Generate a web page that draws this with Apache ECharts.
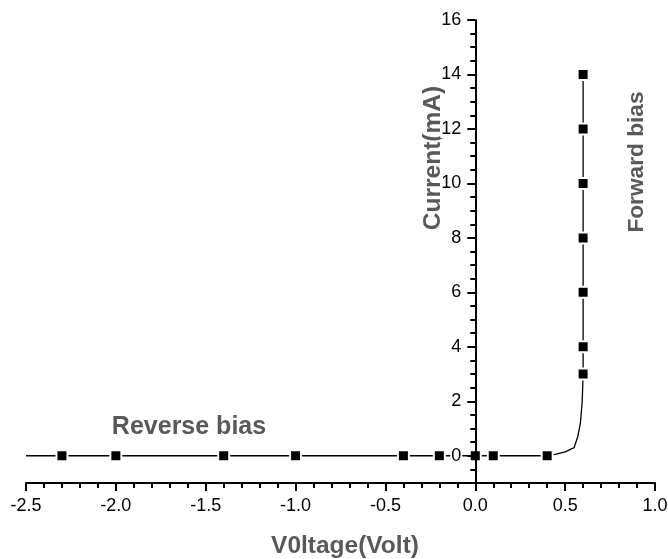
<!DOCTYPE html>
<html>
<head>
<meta charset="utf-8">
<script src="https://cdn.jsdelivr.net/npm/echarts@6/dist/echarts.min.js"></script>
<style>
  html, body { margin: 0; padding: 0; background: #fff; }
  #chart { width: 668px; height: 559px; }
</style>
</head>
<body>
<div id="chart"></div>
<script>
// Measured diode I-V points (voltage in V, current in mA)
const voltage = [-2.3, -2.0, -1.4, -1.0, -0.4, -0.2, 0.0, 0.1, 0.4, 0.6, 0.6, 0.6, 0.6, 0.6, 0.6, 0.6];
const current = [0, 0, 0, 0, 0, 0, 0, 0, 0, 3, 4, 6, 8, 10, 12, 14];

// Drawn characteristic curve through the measurements, including the knee
const curveVoltage = [-2.5, -2.3, -2.0, -1.4, -1.0, -0.4, -0.2, 0.0, 0.1, 0.4, 0.45, 0.5, 0.55, 0.57, 0.585, 0.595, 0.6, 0.6, 0.6, 0.6, 0.6, 0.6, 0.6];
const curveCurrent = [0, 0, 0, 0, 0, 0, 0, 0, 0, 0, 0.06, 0.14, 0.3, 0.7, 1.2, 2.0, 3, 4, 6, 8, 10, 12, 14];

// Axis ranges
const xRange = [-2.5, 1.0];
const xStep = 0.5;
const yRange = [-1, 16];

const pair = (xs, ys) => xs.map((x, i) => [x, ys[i]]);

const chart = echarts.init(document.getElementById('chart'), null, { renderer: 'canvas' });

const labelFont = 'Liberation Sans, Arial, sans-serif';
const grey = '#595959';
const gridLeft = 26;

chart.setOption({
  animation: false,
  backgroundColor: '#fff',
  grid: { left: gridLeft, right: 13, top: 20, bottom: 76, outerBoundsMode: 'none' },
  xAxis: {
    type: 'value',
    min: xRange[0],
    max: xRange[1],
    interval: xStep,
    axisLine: { onZero: false, lineStyle: { color: '#000', width: 2 } },
    axisTick: { show: true, length: 8, lineStyle: { color: '#000', width: 2 } },
    minorTick: { show: true, splitNumber: 5, length: 5, lineStyle: { color: '#000', width: 2 } },
    splitLine: { show: false },
    minorSplitLine: { show: false },
    axisLabel: {
      color: '#000', fontSize: 18, fontFamily: labelFont, margin: 14,
      hideOverlap: false,
      formatter: v => v.toFixed(1)
    }
  },
  yAxis: {
    type: 'value',
    position: 'left',
    min: yRange[0],
    max: yRange[1],
    splitNumber: 8,
    z: 4,
    axisLine: { onZero: false, lineStyle: { color: '#000', width: 2 } },
    axisTick: { show: true, length: 8, lineStyle: { color: '#000', width: 2 } },
    minorTick: { show: true, splitNumber: 4, length: 5, lineStyle: { color: '#000', width: 2 } },
    splitLine: { show: false },
    minorSplitLine: { show: false },
    axisLabel: {
      color: '#000', fontSize: 18, fontFamily: labelFont, margin: 13,
      showMinLabel: false,
      backgroundColor: '#fff', padding: [0, 1]
    }
  },
  series: [
    {
      type: 'line',
      z: 2,
      data: pair(curveVoltage, curveCurrent),
      showSymbol: false,
      symbol: 'none',
      lineStyle: { color: '#000', width: 1.3 }
    },
    {
      type: 'scatter',
      z: 3,
      data: pair(voltage, current),
      symbol: 'rect',
      symbolSize: 11,
      itemStyle: { color: '#000', borderColor: '#fff', borderWidth: 2, opacity: 1 }
    }
  ],
  graphic: [
    {
      type: 'text', x: 189, y: 427,
      style: { text: 'Reverse bias', font: 'bold 25px ' + labelFont, fill: grey, align: 'center', verticalAlign: 'middle' }
    },
    {
      type: 'text', x: 345, y: 546,
      style: { text: 'V0ltage(Volt)', font: 'bold 24.5px ' + labelFont, fill: grey, align: 'center', verticalAlign: 'middle' }
    },
    {
      type: 'text', x: 433, y: 158, rotation: Math.PI / 2,
      style: { text: 'Current(mA)', font: 'bold 24.5px ' + labelFont, fill: grey, align: 'center', verticalAlign: 'middle' }
    },
    {
      type: 'text', x: 637, y: 162, rotation: Math.PI / 2,
      style: { text: 'Forward bias', font: 'bold 22.7px ' + labelFont, fill: grey, align: 'center', verticalAlign: 'middle' }
    }
  ]
});

// Shift the current axis so that it crosses the voltage axis at 0 V
const zeroX = chart.convertToPixel({ xAxisIndex: 0 }, 0);
chart.setOption({ yAxis: { offset: -(zeroX - gridLeft) } });
</script>
</body>
</html>
